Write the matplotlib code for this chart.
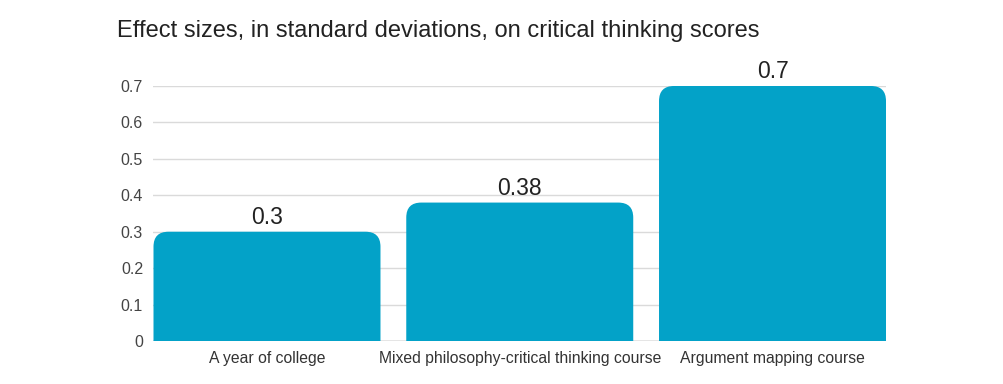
import matplotlib
matplotlib.use("Agg")
import matplotlib.pyplot as plt
from matplotlib.path import Path
from matplotlib.patches import PathPatch
from matplotlib.transforms import IdentityTransform

plt.rcParams['font.family'] = ['Liberation Sans', 'DejaVu Sans']

categories = ["A year of college", "Mixed philosophy-critical thinking course", "Argument mapping course"]
values = [0.3, 0.38, 0.7]
value_labels = ["0.3", "0.38", "0.7"]
yticks = [0, 0.1, 0.2, 0.3, 0.4, 0.5, 0.6, 0.7]
ytick_labels = ["0", "0.1", "0.2", "0.3", "0.4", "0.5", "0.6", "0.7"]

W, H, DPI = 1004, 384, 100
fig = plt.figure(figsize=(W / DPI, H / DPI), dpi=DPI)
ax = fig.add_axes([153.5 / W, 1 - 341 / H, (886 - 153.5) / W, (341 - 86) / H])

color = "#03a2c8"
width = 0.898
x = list(range(len(categories)))
bars = ax.bar(x, values, width=width, color=color, zorder=2)
ax.set_xlim(-width / 2, len(categories) - 1 + width / 2)
ax.set_ylim(0, 0.7)
ax.set_yticks(yticks)
ax.set_yticklabels(ytick_labels, fontsize=11.5, color="#444444")
ax.set_xticks(x)
ax.set_xticklabels(categories, fontsize=11.3, color="#333333")
ax.tick_params(axis='both', length=0)
ax.tick_params(axis='y', pad=7.5)
ax.tick_params(axis='x', pad=7)
for s in ax.spines.values():
    s.set_visible(False)
ax.grid(axis='y', color="#dadada", linewidth=1, zorder=0)
ax.axhline(0, color="#9e9e9e", linewidth=1, zorder=3)

# rounded top corners
fig.canvas.draw()
r = 15
for b in bars:
    b.set_visible(False)
    x0, y0 = ax.transData.transform((b.get_x(), 0))
    x1, y1 = ax.transData.transform((b.get_x() + b.get_width(), b.get_height()))
    verts = [(x0, y0), (x0, y1 - r), (x0, y1), (x0 + r, y1),
             (x1 - r, y1), (x1, y1), (x1, y1 - r), (x1, y0), (x0, y0)]
    codes = [Path.MOVETO, Path.LINETO, Path.CURVE3, Path.CURVE3,
             Path.LINETO, Path.CURVE3, Path.CURVE3, Path.LINETO, Path.CLOSEPOLY]
    p = PathPatch(Path(verts, codes), facecolor=color, edgecolor='none',
                  transform=IdentityTransform(), zorder=2)
    fig.add_artist(p)

for xi, v, lab in zip(x, values, value_labels):
    ax.annotate(lab, (xi, v), xytext=(0, 5.5), textcoords='offset points',
                ha='center', va='baseline', fontsize=16.5, color="#222222",
                annotation_clip=False)

fig.text(117 / W, 1 - 36.7 / H, "Effect sizes, in standard deviations, on critical thinking scores",
         fontsize=17, color="#222222", va='baseline', ha='left')

fig.savefig("out.png", dpi=DPI)
